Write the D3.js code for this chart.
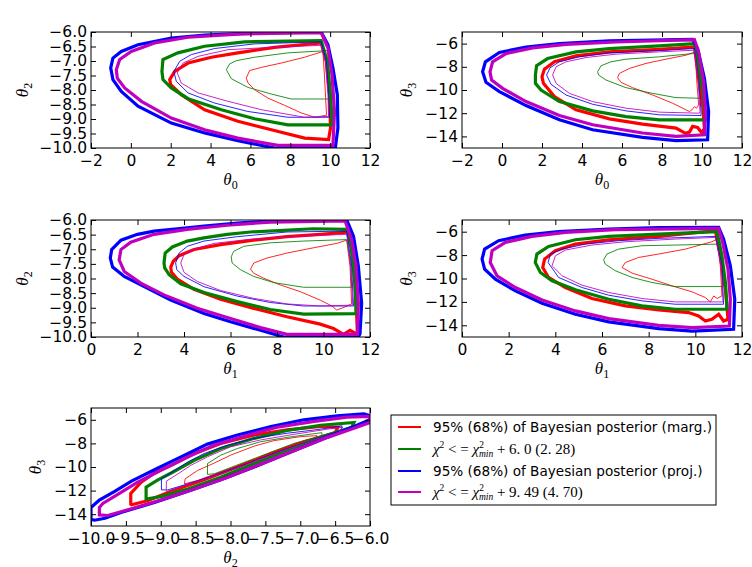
<!DOCTYPE html>
<html>
<head>
<meta charset="utf-8">
<script src="https://cdn.jsdelivr.net/npm/d3@7"></script>
<style>
  body { margin: 0; background: #fff; }
  svg { display: block; }
  text { font-family: 'DejaVu Sans', sans-serif; }
</style>
</head>
<body>
<script>
// contour outlines, [x, y] in data units

// theta0 vs theta2
const t0t2_red95 = [[1.95,-7.64],[2.20,-7.36],[2.87,-7.07],[4.04,-6.87],[5.37,-6.72],[7.21,-6.53],[9.55,-6.38],[9.81,-7.01],[9.97,-8.16],[10.02,-9.31],[9.92,-9.71],[8.72,-9.66],[7.05,-9.37],[5.37,-9.08],[3.70,-8.68],[2.53,-8.16],[2.00,-7.82]]
const t0t2_red68 = [[5.79,-7.59],[5.96,-7.33],[6.55,-7.22],[7.55,-7.07],[8.72,-6.87],[9.64,-6.67],[9.72,-7.59],[9.82,-8.87],[9.22,-8.94],[8.55,-8.79],[7.72,-8.53],[6.88,-8.28],[6.21,-7.99],[5.88,-7.76]]
const t0t2_green95 = [[1.56,-7.36],[1.61,-6.95],[2.36,-6.72],[3.70,-6.49],[5.71,-6.34],[9.55,-6.30],[9.86,-7.01],[10.02,-8.16],[10.11,-9.20],[7.88,-9.20],[6.21,-8.99],[4.54,-8.68],[2.87,-8.30],[2.03,-7.93],[1.61,-7.64]]
const t0t2_green68 = [[4.79,-7.30],[4.96,-7.10],[5.29,-6.99],[6.21,-6.87],[7.88,-6.72],[9.89,-6.64],[9.92,-7.47],[9.92,-8.31],[8.05,-8.31],[7.05,-8.14],[5.87,-7.91],[5.04,-7.61]]
const t0t2_blue95 = [[-1.01,-7.24],[-0.90,-6.90],[-0.48,-6.67],[0.36,-6.44],[2.03,-6.21],[3.70,-6.11],[6.21,-6.03],[9.55,-6.0],[9.89,-6.44],[10.14,-7.24],[10.36,-8.16],[10.39,-9.31],[10.26,-10.0],[7.21,-10.0],[5.37,-9.75],[3.70,-9.48],[2.03,-9.14],[0.36,-8.56],[-0.48,-8.05],[-0.90,-7.64]]
const t0t2_blue68 = [[2.16,-7.36],[2.45,-7.01],[3.03,-6.78],[4.20,-6.57],[6.21,-6.41],[9.55,-6.34],[9.81,-7.01],[9.92,-8.16],[9.97,-8.94],[7.88,-8.94],[5.87,-8.74],[4.20,-8.45],[2.87,-8.10],[2.28,-7.70]]
const t0t2_mag95 = [[-0.73,-7.30],[-0.56,-6.95],[0.02,-6.67],[1.19,-6.38],[2.87,-6.18],[5.37,-6.07],[9.55,-6.02],[9.89,-6.55],[10.09,-7.47],[10.22,-8.74],[10.14,-9.91],[7.38,-9.91],[5.37,-9.66],[3.70,-9.37],[2.03,-8.97],[0.53,-8.39],[-0.31,-7.93],[-0.68,-7.59]]
const t0t2_mag68 = [[2.33,-7.41],[2.62,-7.07],[3.37,-6.84],[4.87,-6.61],[7.05,-6.53],[9.55,-6.46],[9.76,-7.01],[9.89,-8.16],[9.92,-8.91],[8.72,-8.94],[6.55,-8.68],[4.87,-8.39],[3.37,-8.10],[2.53,-7.76]]

// theta0 vs theta3
const t0t3_red95 = [[2.0,-8.86],[2.12,-8.2],[2.62,-7.57],[3.7,-7.06],[5.37,-6.71],[7.87,-6.49],[9.62,-6.29],[9.83,-9.0],[10.03,-11.29],[10.12,-13.29],[10.0,-13.71],[9.78,-13.23],[9.53,-13.14],[9.37,-13.63],[9.17,-13.74],[8.7,-13.29],[7.03,-12.94],[5.37,-12.49],[3.7,-11.71],[2.62,-10.57],[2.07,-9.43]]
const t0t3_red68 = [[5.78,-8.94],[5.87,-8.57],[6.37,-8.14],[7.2,-7.71],[8.2,-7.34],[9.2,-7.0],[9.67,-6.71],[9.73,-9.0],[9.83,-11.29],[9.73,-11.57],[9.62,-11.43],[9.5,-11.71],[9.37,-11.86],[9.2,-11.71],[8.53,-11.14],[7.53,-10.43],[6.53,-9.8],[5.95,-9.34]]
const t0t3_green95 = [[1.67,-8.71],[1.73,-7.91],[2.28,-7.29],[3.70,-6.71],[5.37,-6.43],[7.87,-6.2],[9.62,-6.0],[9.87,-8.14],[10.08,-10.43],[10.17,-12.57],[7.87,-12.57],[6.2,-12.29],[4.53,-11.8],[2.87,-11.0],[1.95,-10.0],[1.67,-9.43]]
const t0t3_green68 = [[4.78,-8.43],[4.95,-7.91],[5.45,-7.57],[6.2,-7.34],[7.87,-7.14],[9.53,-6.86],[9.73,-6.77],[9.87,-9.0],[9.9,-10.71],[8.7,-10.66],[7.53,-10.29],[6.2,-9.8],[5.2,-9.14],[4.83,-8.71]]
const t0t3_blue95 = [[-0.97,-8.43],[-0.83,-7.57],[-0.13,-6.77],[1.20,-6.29],[2.87,-6.0],[5.37,-5.77],[9.53,-5.63],[9.78,-6.43],[10.12,-9.0],[10.33,-11.86],[10.28,-14.29],[8.70,-14.37],[7.03,-14.09],[4.53,-13.43],[2.87,-12.57],[1.20,-11.34],[-0.13,-10.14],[-0.80,-9.34]]
const t0t3_blue68 = [[2.23,-8.71],[2.4,-8.09],[2.87,-7.57],[3.87,-7.14],[5.37,-6.8],[7.87,-6.6],[9.62,-6.43],[9.83,-9.0],[9.95,-11.86],[9.95,-12.2],[7.87,-12.14],[6.2,-11.8],[4.53,-11.23],[3.2,-10.43],[2.45,-9.51]]
const t0t3_mag95 = [[-0.6,-8.43],[-0.47,-7.57],[0.2,-6.86],[1.53,-6.37],[3.2,-6.06],[5.7,-5.86],[9.62,-5.66],[9.83,-6.71],[10.08,-9.29],[10.17,-11.86],[10.12,-13.86],[8.70,-14.0],[7.03,-13.71],[4.53,-13.0],[2.87,-12.2],[1.2,-11.0],[0.03,-9.86],[-0.52,-9.14]]
const t0t3_mag68 = [[2.53,-8.71],[2.7,-8.0],[3.2,-7.57],[4.2,-7.2],[5.7,-6.91],[7.87,-6.71],[9.62,-6.57],[9.8,-9.0],[9.9,-11.86],[9.87,-12.0],[7.87,-11.91],[6.2,-11.57],[4.53,-11.0],[3.37,-10.29],[2.7,-9.43]]

// theta1 vs theta2
const t1t2_red95 = [[3.43,-7.61],[3.54,-7.41],[3.79,-7.22],[4.43,-7.01],[5.57,-6.84],[7.0,-6.69],[8.43,-6.57],[9.86,-6.49],[11.14,-6.41],[11.29,-7.59],[11.4,-8.74],[11.46,-9.91],[11.14,-9.77],[10.86,-9.91],[10.43,-9.71],[9.86,-9.56],[8.43,-9.31],[7.0,-9.02],[5.57,-8.71],[4.43,-8.37],[3.71,-8.02],[3.46,-7.79]]
const t1t2_red68 = [[6.86,-7.68],[7.0,-7.47],[7.57,-7.3],[8.43,-7.13],[9.57,-6.95],[10.57,-6.8],[11.0,-6.69],[11.14,-7.59],[11.21,-8.87],[10.93,-8.97],[10.57,-9.08],[10.36,-8.94],[9.86,-8.74],[9.0,-8.45],[8.14,-8.22],[7.43,-7.99],[7.0,-7.82]]
const t1t2_green95 = [[3.14,-7.47],[3.19,-7.13],[3.5,-6.92],[4.14,-6.72],[4.86,-6.61],[5.86,-6.49],[6.86,-6.41],[9.57,-6.3],[11.0,-6.32],[11.21,-7.01],[11.36,-8.16],[11.4,-9.2],[9.14,-9.22],[7.71,-9.06],[6.29,-8.79],[4.86,-8.48],[3.86,-8.18],[3.36,-7.87],[3.17,-7.64]]
const t1t2_green68 = [[6.03,-7.26],[6.14,-7.07],[6.57,-6.9],[7.71,-6.78],[9.14,-6.72],[11.0,-6.67],[11.17,-7.47],[11.21,-8.3],[9.14,-8.3],[7.86,-8.14],[7.0,-7.93],[6.43,-7.7],[6.07,-7.47]]
const t1t2_blue95 = [[0.83,-7.3],[0.89,-7.01],[1.29,-6.69],[2.0,-6.49],[2.71,-6.38],[3.71,-6.3],[4.86,-6.21],[6.29,-6.11],[7.71,-6.03],[11.0,-6.0],[11.29,-6.55],[11.5,-7.59],[11.64,-8.85],[11.57,-9.89],[11.5,-10.0],[8.29,-10.0],[7.29,-9.77],[6.0,-9.48],[4.86,-9.2],[3.43,-8.74],[2.29,-8.28],[1.43,-7.93],[0.93,-7.61]]
const t1t2_blue68 = [[3.64,-7.47],[3.79,-7.13],[4.14,-6.9],[4.86,-6.72],[6.29,-6.57],[8.43,-6.41],[11.0,-6.38],[11.21,-7.59],[11.29,-8.94],[9.14,-8.94],[7.71,-8.82],[6.29,-8.6],[4.86,-8.28],[4.0,-7.93],[3.69,-7.7]]
const t1t2_mag95 = [[1.21,-7.36],[1.29,-7.01],[1.71,-6.76],[2.71,-6.49],[4.14,-6.32],[5.86,-6.18],[7.71,-6.07],[10.93,-6.03],[11.21,-6.67],[11.4,-7.59],[11.5,-8.85],[11.46,-9.91],[8.43,-9.91],[7.29,-9.68],[6.0,-9.37],[4.57,-9.02],[3.14,-8.56],[2.14,-8.16],[1.43,-7.76]]
const t1t2_mag68 = [[3.86,-7.47],[4.0,-7.18],[4.43,-6.99],[5.29,-6.8],[6.71,-6.67],[8.43,-6.57],[11.0,-6.49],[11.17,-7.59],[11.26,-8.91],[9.86,-8.94],[8.43,-8.87],[7.0,-8.68],[5.57,-8.41],[4.57,-8.1],[4.0,-7.79]]

// theta1 vs theta3
const t1t3_red95 = [[3.46,-9.06],[3.54,-8.34],[4.0,-7.63],[4.86,-7.06],[6.29,-6.69],[8.43,-6.4],[10.86,-5.91],[11.07,-8.06],[11.29,-10.91],[11.4,-13.49],[11.21,-13.63],[11.0,-13.06],[10.71,-13.49],[10.43,-13.63],[10.14,-13.2],[9.71,-12.91],[8.43,-12.69],[7.0,-12.34],[5.57,-11.71],[4.43,-10.77],[3.71,-9.91]]
const t1t3_red68 = [[6.86,-9.06],[7.0,-8.63],[7.57,-8.2],[8.43,-7.91],[9.57,-7.49],[10.71,-6.86],[10.93,-6.63],[11.07,-8.91],[11.14,-11.49],[10.93,-11.71],[10.79,-11.49],[10.64,-12.0],[10.43,-11.63],[9.86,-11.14],[9.0,-10.63],[8.14,-10.06],[7.29,-9.54]]
const t1t3_green95 = [[3.14,-8.63],[3.21,-7.91],[3.71,-7.26],[4.86,-6.69],[6.29,-6.4],[8.43,-6.2],[10.93,-6.0],[11.14,-8.06],[11.29,-10.34],[11.36,-12.63],[9.14,-12.63],[7.71,-12.34],[6.29,-11.77],[4.86,-10.97],[3.86,-10.2],[3.36,-9.49]]
const t1t3_green68 = [[6.07,-8.4],[6.21,-7.91],[6.71,-7.49],[7.71,-7.2],[9.14,-7.14],[11.0,-7.06],[11.14,-8.91],[11.19,-10.69],[9.14,-10.69],[8.14,-10.34],[7.29,-9.91],[6.57,-9.34],[6.14,-8.77]]
const t1t3_blue95 = [[0.86,-8.34],[0.97,-7.49],[1.57,-6.77],[2.71,-6.29],[4.14,-6.0],[6.29,-5.77],[8.43,-5.66],[11.0,-5.63],[11.21,-6.63],[11.5,-8.91],[11.69,-11.77],[11.64,-14.34],[9.86,-14.49],[8.43,-14.29],[6.29,-13.71],[4.86,-13.06],[3.43,-12.11],[2.29,-11.06],[1.43,-10.06],[0.97,-9.2]]
const t1t3_blue68 = [[3.69,-8.63],[3.79,-7.91],[4.29,-7.49],[5.29,-7.06],[6.71,-6.77],[8.43,-6.57],[10.86,-6.4],[11.14,-8.91],[11.21,-12.2],[9.14,-12.2],[7.71,-11.91],[6.29,-11.43],[5.14,-10.77],[4.14,-9.91]]
const t1t3_mag95 = [[1.21,-8.63],[1.29,-7.63],[1.86,-6.91],[3.0,-6.4],[4.43,-6.06],[6.57,-5.83],[11.0,-5.71],[11.17,-6.91],[11.4,-9.2],[11.5,-11.77],[11.46,-14.06],[9.86,-14.2],[8.43,-14.0],[6.29,-13.43],[4.86,-12.77],[3.43,-11.83],[2.29,-10.77],[1.5,-9.77]]
const t1t3_mag68 = [[3.86,-8.91],[4.0,-8.06],[4.43,-7.57],[5.57,-7.14],[7.0,-6.86],[9.14,-6.63],[10.86,-6.49],[11.11,-8.91],[11.19,-12.0],[9.14,-12.0],[7.71,-11.71],[6.29,-11.2],[5.14,-10.57],[4.29,-9.77]]

// theta2 vs theta3
const t2t3_red95 = [[-9.43,-13.14],[-9.43,-12.23],[-9.28,-11.29],[-9.09,-10.51],[-8.85,-9.86],[-8.52,-8.86],[-8.14,-8.0],[-7.66,-7.29],[-7.19,-6.86],[-6.71,-6.57],[-6.46,-6.63],[-6.5,-7.09],[-6.95,-7.86],[-7.42,-8.86],[-7.9,-10.0],[-8.38,-11.09],[-8.85,-12.06],[-9.19,-12.86],[-9.42,-13.2]]
const t2t3_red68 = [[-8.66,-11.43],[-8.65,-11.0],[-8.47,-10.29],[-8.23,-9.66],[-8.0,-9.0],[-7.66,-8.23],[-7.38,-7.77],[-7.0,-7.43],[-6.76,-7.34],[-6.8,-7.66],[-7.09,-8.23],[-7.42,-8.91],[-7.8,-9.71],[-8.14,-10.43],[-8.47,-11.14]]
const t2t3_green95 = [[-9.21,-12.71],[-9.21,-11.71],[-9.04,-11.09],[-8.85,-10.51],[-8.52,-9.43],[-8.14,-8.43],[-7.66,-7.57],[-7.19,-6.91],[-6.71,-6.46],[-6.23,-6.23],[-6.26,-6.63],[-6.71,-7.49],[-7.19,-8.57],[-7.66,-9.71],[-8.14,-10.86],[-8.61,-11.86],[-9.0,-12.51]]
const t2t3_green68 = [[-8.33,-10.63],[-8.33,-9.71],[-8.14,-9.0],[-7.9,-8.43],[-7.57,-7.86],[-7.19,-7.49],[-6.69,-7.09],[-6.69,-7.37],[-7.09,-8.0],[-7.47,-8.86],[-7.85,-9.71],[-8.23,-10.57]]
const t2t3_blue95 = [[-10.0,-13.43],[-9.88,-12.8],[-9.66,-12.06],[-9.42,-11.2],[-9.09,-10.23],[-8.71,-9.14],[-8.33,-8.06],[-7.9,-7.29],[-7.42,-6.57],[-6.95,-6.0],[-6.47,-5.66],[-6.09,-5.49],[-6.0,-5.66],[-6.0,-6.0],[-6.23,-6.57],[-6.71,-7.71],[-7.19,-8.86],[-7.66,-10.0],[-8.14,-11.09],[-8.61,-12.06],[-9.09,-13.0],[-9.57,-13.86],[-9.8,-14.34],[-9.95,-14.51],[-10.0,-14.43]]
const t2t3_blue68 = [[-8.99,-11.94],[-8.99,-11.0],[-8.8,-10.29],[-8.61,-9.57],[-8.38,-8.86],[-8.04,-8.14],[-7.66,-7.57],[-7.19,-7.14],[-6.71,-6.8],[-6.4,-6.51],[-6.42,-6.91],[-6.8,-7.66],[-7.28,-8.63],[-7.76,-9.71],[-8.23,-10.71],[-8.61,-11.43],[-8.9,-11.94]]
const t2t3_mag95 = [[-9.88,-13.43],[-9.83,-13.09],[-9.61,-12.29],[-9.33,-11.29],[-9.0,-10.29],[-8.61,-9.14],[-8.23,-8.14],[-7.8,-7.37],[-7.33,-6.63],[-6.8,-6.14],[-6.33,-5.77],[-6.0,-5.71],[-6.0,-6.23],[-6.19,-6.63],[-6.61,-7.49],[-7.09,-8.63],[-7.57,-9.77],[-8.04,-10.86],[-8.52,-11.86],[-9.0,-12.8],[-9.42,-13.54],[-9.76,-14.11],[-9.88,-14.06]]
const t2t3_mag68 = [[-8.92,-12.06],[-8.92,-11.2],[-8.75,-10.57],[-8.57,-9.86],[-8.33,-9.14],[-8.0,-8.29],[-7.57,-7.71],[-7.09,-7.23],[-6.62,-6.8],[-6.39,-6.63],[-6.45,-7.09],[-6.85,-7.77],[-7.33,-8.8],[-7.8,-9.86],[-8.28,-10.86],[-8.66,-11.57],[-8.9,-12.06]]

const seriesColors = ['#ff0000', '#008000', '#0000ff', '#bf00bf']
const legendText = ['95% (68%) of Bayesian posterior (marg.)', null, '95% (68%) of Bayesian posterior (proj.)', null]
const chiLevels = [null, ['6.0', '2.28'], null, ['9.49', '4.70']]

const xTicks02 = [-2, 0, 2, 4, 6, 8, 10, 12]
const xTicks1 = [0, 2, 4, 6, 8, 10, 12]
const xTicks2 = [-10, -9.5, -9, -8.5, -8, -7.5, -7, -6.5, -6]
const yTicks2 = [-6, -6.5, -7, -7.5, -8, -8.5, -9, -9.5, -10]
const yTicks3 = [-6, -8, -10, -12, -14]

const svg = d3.select('body').append('svg')
  .attr('width', 752)
  .attr('height', 567)

const defs = svg.append('defs')
const serif = "'Liberation Serif', serif"
const fmt0 = d3.format('d')
const fmt1 = d3.format('.1f')
let clipId = 0

function thetaLabel (sel, sub) {
  sel.append('tspan').text('θ').style('font-family', serif).style('font-style', 'italic').style('font-size', '17px')
  sel.append('tspan').text(sub).attr('dy', 4).style('font-family', serif).style('font-size', '12px')
}

function drawPanel ({ box, xDomain, yDomain, xTicks, yTicks, xFmt, yFmt, xSub, ySub, contours }) {
  const [left, top, right, bottom] = box
  const x = d3.scaleLinear().domain(xDomain).range([left, right])
  const y = d3.scaleLinear().domain(yDomain).range([bottom, top])

  const id = 'clip' + (clipId++)
  defs.append('clipPath').attr('id', id)
    .append('rect')
    .attr('x', left).attr('y', top)
    .attr('width', right - left).attr('height', bottom - top)

  const line = d3.line().x(d => x(d[0])).y(d => y(d[1])).curve(d3.curveLinearClosed)

  const g = svg.append('g').attr('clip-path', `url(#${id})`)
  // 95% contours thick, 68% thin
  contours.forEach(([pts, color, thick]) => {
    g.append('path')
      .attr('d', line(pts))
      .attr('fill', 'none')
      .attr('stroke', color)
      .attr('stroke-width', thick ? 3.2 : 1)
      .attr('stroke-opacity', thick ? 1 : 0.85)
  })

  const tick = 5
  const axB = svg.append('g').attr('transform', `translate(0,${bottom})`)
    .call(d3.axisBottom(x).tickValues(xTicks).tickFormat(xFmt).tickSizeInner(-tick).tickSizeOuter(0).tickPadding(7))
  const axT = svg.append('g').attr('transform', `translate(0,${top})`)
    .call(d3.axisTop(x).tickValues(xTicks).tickFormat('').tickSizeInner(-tick).tickSizeOuter(0))
  const axL = svg.append('g').attr('transform', `translate(${left},0)`)
    .call(d3.axisLeft(y).tickValues(yTicks).tickFormat(yFmt).tickSizeInner(-tick).tickSizeOuter(0).tickPadding(4))
  const axR = svg.append('g').attr('transform', `translate(${right},0)`)
    .call(d3.axisRight(y).tickValues(yTicks).tickFormat('').tickSizeInner(-tick).tickSizeOuter(0))
  ;[axB, axT, axL, axR].forEach(a => {
    a.select('.domain').remove()
    a.selectAll('line').attr('stroke', '#000')
    a.selectAll('text').attr('fill', '#000').style('font-size', '15.5px').style('font-family', "'DejaVu Sans', sans-serif")
  })

  svg.append('rect')
    .attr('x', left).attr('y', top)
    .attr('width', right - left).attr('height', bottom - top)
    .attr('fill', 'none').attr('stroke', '#000').attr('stroke-width', 1)

  const xl = svg.append('text')
    .attr('x', (left + right) / 2).attr('y', bottom + 37)
    .attr('text-anchor', 'middle')
  thetaLabel(xl, xSub)

  const lx = left - (yFmt === fmt1 ? 63 : 50)
  const yl = svg.append('text')
    .attr('transform', `translate(${lx},${(top + bottom) / 2}) rotate(-90)`)
    .attr('text-anchor', 'middle')
  thetaLabel(yl, ySub)
}

const set = (r95, r68, g95, g68, b95, b68, m95, m68) => [
  [r95, seriesColors[0], true], [r68, seriesColors[0], false],
  [g95, seriesColors[1], true], [g68, seriesColors[1], false],
  [b95, seriesColors[2], true], [b68, seriesColors[2], false],
  [m95, seriesColors[3], true], [m68, seriesColors[3], false]
]

drawPanel({
  box: [91, 32, 370, 148], xDomain: [-2, 12], yDomain: [-10, -6],
  xTicks: xTicks02, yTicks: yTicks2, xFmt: fmt0, yFmt: fmt1, xSub: '0', ySub: '2',
  contours: set(t0t2_red95, t0t2_red68, t0t2_green95, t0t2_green68, t0t2_blue95, t0t2_blue68, t0t2_mag95, t0t2_mag68)
})
drawPanel({
  box: [462, 32, 742, 148], xDomain: [-2, 12], yDomain: [-15, -5],
  xTicks: xTicks02, yTicks: yTicks3, xFmt: fmt0, yFmt: fmt0, xSub: '0', ySub: '3',
  contours: set(t0t3_red95, t0t3_red68, t0t3_green95, t0t3_green68, t0t3_blue95, t0t3_blue68, t0t3_mag95, t0t3_mag68)
})
drawPanel({
  box: [91, 220, 370, 337], xDomain: [0, 12], yDomain: [-10, -6],
  xTicks: xTicks1, yTicks: yTicks2, xFmt: fmt0, yFmt: fmt1, xSub: '1', ySub: '2',
  contours: set(t1t2_red95, t1t2_red68, t1t2_green95, t1t2_green68, t1t2_blue95, t1t2_blue68, t1t2_mag95, t1t2_mag68)
})
drawPanel({
  box: [462, 220, 742, 337], xDomain: [0, 12], yDomain: [-15, -5],
  xTicks: xTicks1, yTicks: yTicks3, xFmt: fmt0, yFmt: fmt0, xSub: '1', ySub: '3',
  contours: set(t1t3_red95, t1t3_red68, t1t3_green95, t1t3_green68, t1t3_blue95, t1t3_blue68, t1t3_mag95, t1t3_mag68)
})
drawPanel({
  box: [91, 408, 370, 526], xDomain: [-10, -6], yDomain: [-15, -5],
  xTicks: xTicks2, yTicks: yTicks3, xFmt: fmt1, yFmt: fmt0, xSub: '2', ySub: '3',
  contours: set(t2t3_red95, t2t3_red68, t2t3_green95, t2t3_green68, t2t3_blue95, t2t3_blue68, t2t3_mag95, t2t3_mag68)
})

// legend
const lg = svg.append('g')
lg.append('rect')
  .attr('x', 391).attr('y', 415).attr('width', 325).attr('height', 90)
  .attr('fill', '#fff').attr('stroke', '#000').attr('stroke-width', 1)

const rowY = [427, 449, 471, 492]
rowY.forEach((ry, i) => {
  lg.append('line')
    .attr('x1', 398).attr('x2', 421).attr('y1', ry).attr('y2', ry)
    .attr('stroke', seriesColors[i]).attr('stroke-width', 2)
  const t = lg.append('text').attr('x', 433).attr('y', ry + 5).style('font-size', '13.6px')
  if (legendText[i]) {
    t.text(legendText[i])
  } else {
    const [lvl, lvl68] = chiLevels[i]
    t.style('font-family', serif).style('font-size', '15px')
    t.append('tspan').text('χ').style('font-style', 'italic')
    t.append('tspan').text('2').attr('dy', -6).style('font-size', '9.5px')
    t.append('tspan').text(' < = ').attr('dy', 6)
    t.append('tspan').text('χ').style('font-style', 'italic')
    t.append('tspan').text('2').attr('dy', -6).style('font-size', '9.5px')
    t.append('tspan').text('min').attr('dx', -5).attr('dy', 9).style('font-size', '9.5px').style('font-style', 'italic')
    t.append('tspan').text(' + ' + lvl.replace('.', '. ') + ' (' + lvl68.replace('.', '. ') + ')').attr('dy', -3)
  }
})
</script>
</body>
</html>
